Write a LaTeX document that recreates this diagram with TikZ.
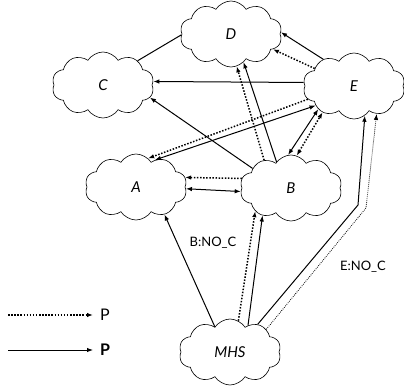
\documentclass[tikz,border=0pt]{standalone}
\usepackage{fontspec}
\setmainfont{Lato}
\usetikzlibrary{shapes.symbols,arrows.meta}

\tikzset{
  host/.style={cloud, draw, line width=0.6pt, cloud puffs=10, cloud puff arc=115,
    cloud ignores aspect, minimum width=102pt, minimum height=66pt,
    inner sep=0pt, font=\fontsize{15}{15}\selectfont\itshape},
  tip/.style={-{Latex[length=6pt,width=4.5pt]}},
  both/.style={{Latex[length=6pt,width=4.5pt]}-{Latex[length=6pt,width=4.5pt]}},
  strong/.style={line width=1pt},
  weak/.style={line width=1.5pt, dash pattern=on 1.5pt off 1.6pt},
  thinweak/.style={line width=0.8pt, dash pattern=on 0.8pt off 1.2pt},
  tag/.style={font=\fontsize{13}{13}\selectfont, inner sep=1pt},
}

\begin{document}
\begin{tikzpicture}[x=1pt,y=-1pt]
  \useasboundingbox (0,0) rectangle (404,388);

  % hosts
  \node[host] (D) at (231,34) {D};
  \node[host] (C) at (103,85) {C};
  \node[host] (E) at (354,86) {E};
  \node[host] (A) at (136,187) {A};
  \node[host] (B) at (291,188) {B};
  \node[host] (M) at (230,352) {MHS};

  % plain link C -- D
  \draw[strong] (C.35) -- (D.181);

  % links from E
  \draw[strong,tip] (E.139) -- (D.2);
  \draw[weak,tip]   (E.156) -- (D.340);
  \draw[strong,tip] (E.176) -- (C.4);
  \draw[weak,tip]   (E.196) -- (A.67);
  \draw[strong,both] (A.55) -- (E.207);

  % links from B
  \draw[strong,tip] (B.153) -- (C.345);
  \draw[strong,tip] (B.119) -- (D.294);
  \draw[weak,tip]   (B.134) -- (D.280);
  \draw[strong,both] (B.95) -- (E.213);
  \draw[weak,both]   (B.80) -- (E.220);
  \draw[weak,tip]   (B.169) -- (A.11);
  \draw[strong,both] (A.358) -- (B.184);

  % links from MHS
  \draw[strong,tip] (M.121) -- (A.316);
  \draw[weak,tip]   (M.75) -- (B.213);
  \draw[strong,tip] (M.56) -- (B.224);
  \coordinate (k1) at (358,205);
  \coordinate (k2) at (366,208);
  \draw[strong,tip]   (M.45) -- (k1) -- (E.290);
  \draw[thinweak,tip] (M.32) -- (k2) -- (E.309);

  \node[tag] (lb) at (213,243) {B:NO\_C};
  \node[tag] (le) at (363,267) {E:NO\_C};

  % legend
  \node[font=\fontsize{16}{16}\selectfont, inner sep=0pt, anchor=west] (p1) at (100,315) {P};
  \node[font=\fontsize{16}{16}\selectfont\bfseries, inner sep=0pt, anchor=west] (p2) at (100,350) {P};
  \coordinate (s1) at (8,315);
  \coordinate (s2) at (8,350);
  \draw[weak,tip,shorten >=7pt]   (s1) -- (p1.west);
  \draw[strong,tip,shorten >=7pt] (s2) -- (p2.west);
\end{tikzpicture}
\end{document}
